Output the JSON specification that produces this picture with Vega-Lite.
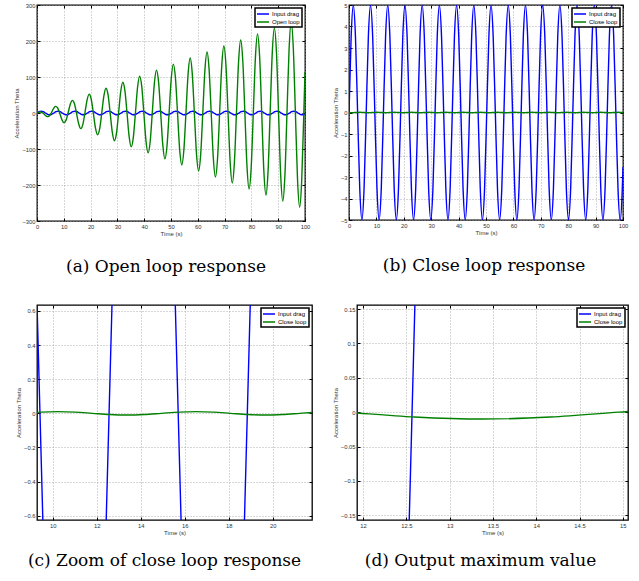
{
"$schema": "https://vega.github.io/schema/vega-lite/v6.json",
"background": "white",
"padding": {"left": 13, "top": 1, "right": 0, "bottom": 0},
"spacing": 27,
"resolve": {"scale": {"x": "independent", "y": "independent", "color": "independent"}, "axis": {"x": "independent", "y": "independent"}, "legend": {"color": "independent"}},
"config": {
  "font": "Liberation Sans",
  "view": {"stroke": "black", "strokeWidth": 1.3},
  "axis": {"domain": false, "tickColor": "black", "tickSize": -3, "tickWidth": 1, "labelFont": "Liberation Sans", "labelFontSize": 5.8, "labelColor": "#333", "titleFont": "Liberation Sans", "titleFontSize": 6, "titleFontWeight": "normal", "titleColor": "#333", "gridColor": "#999", "gridDash": [1, 2], "gridWidth": 0.8, "labelPadding": 5, "titlePadding": 2, "labelFlush": false, "labelOverlap": false},
  "legend": {"orient": "top-right", "offset": 3, "symbolType": "M-2,0H2", "symbolSize": 36, "symbolStrokeWidth": 1.5, "symbolOffset": 2, "labelOffset": 5, "labelFont": "Liberation Sans", "labelFontSize": 6, "labelColor": "black", "padding": 2, "rowPadding": 1, "strokeColor": "black", "fillColor": "white"},
  "title": {"font": "DejaVu Serif", "fontSize": 17, "fontWeight": "normal", "color": "black", "anchor": "middle", "frame": "group"}
},
"datasets": {
"blue": [{"t":0,"v":0},{"t":0.785,"v":3.536},{"t":1.571,"v":5},{"t":2.356,"v":3.536},{"t":3.142,"v":0},{"t":3.927,"v":-3.536},{"t":4.712,"v":-5},{"t":5.498,"v":-3.536},
{"t":6.283,"v":0},{"t":7.069,"v":3.536},{"t":7.854,"v":5},{"t":8.639,"v":3.536},{"t":9.425,"v":0},{"t":10.21,"v":-3.536},{"t":10.996,"v":-5},{"t":11.781,"v":-3.536},
{"t":12.566,"v":0},{"t":13.352,"v":3.536},{"t":14.137,"v":5},{"t":14.923,"v":3.536},{"t":15.708,"v":0},{"t":16.493,"v":-3.536},{"t":17.279,"v":-5},{"t":18.064,"v":-3.536},
{"t":18.85,"v":0},{"t":19.635,"v":3.536},{"t":20.42,"v":5},{"t":21.206,"v":3.536},{"t":21.991,"v":0},{"t":22.777,"v":-3.536},{"t":23.562,"v":-5},{"t":24.347,"v":-3.536},
{"t":25.133,"v":0},{"t":25.918,"v":3.536},{"t":26.704,"v":5},{"t":27.489,"v":3.536},{"t":28.274,"v":0},{"t":29.06,"v":-3.536},{"t":29.845,"v":-5},{"t":30.631,"v":-3.536},
{"t":31.416,"v":0},{"t":32.201,"v":3.536},{"t":32.987,"v":5},{"t":33.772,"v":3.536},{"t":34.558,"v":0},{"t":35.343,"v":-3.536},{"t":36.128,"v":-5},{"t":36.914,"v":-3.536},
{"t":37.699,"v":0},{"t":38.485,"v":3.536},{"t":39.27,"v":5},{"t":40.055,"v":3.536},{"t":40.841,"v":0},{"t":41.626,"v":-3.536},{"t":42.412,"v":-5},{"t":43.197,"v":-3.536},
{"t":43.982,"v":0},{"t":44.768,"v":3.536},{"t":45.553,"v":5},{"t":46.338,"v":3.536},{"t":47.124,"v":0},{"t":47.909,"v":-3.536},{"t":48.695,"v":-5},{"t":49.48,"v":-3.536},
{"t":50.265,"v":0},{"t":51.051,"v":3.536},{"t":51.836,"v":5},{"t":52.622,"v":3.536},{"t":53.407,"v":0},{"t":54.192,"v":-3.536},{"t":54.978,"v":-5},{"t":55.763,"v":-3.536},
{"t":56.549,"v":0},{"t":57.334,"v":3.536},{"t":58.119,"v":5},{"t":58.905,"v":3.536},{"t":59.69,"v":0},{"t":60.476,"v":-3.536},{"t":61.261,"v":-5},{"t":62.046,"v":-3.536},
{"t":62.832,"v":0},{"t":63.617,"v":3.536},{"t":64.403,"v":5},{"t":65.188,"v":3.536},{"t":65.973,"v":0},{"t":66.759,"v":-3.536},{"t":67.544,"v":-5},{"t":68.33,"v":-3.536},
{"t":69.115,"v":0},{"t":69.9,"v":3.536},{"t":70.686,"v":5},{"t":71.471,"v":3.536},{"t":72.257,"v":0},{"t":73.042,"v":-3.536},{"t":73.827,"v":-5},{"t":74.613,"v":-3.536},
{"t":75.398,"v":0},{"t":76.184,"v":3.536},{"t":76.969,"v":5},{"t":77.754,"v":3.536},{"t":78.54,"v":0},{"t":79.325,"v":-3.536},{"t":80.111,"v":-5},{"t":80.896,"v":-3.536},
{"t":81.681,"v":0},{"t":82.467,"v":3.536},{"t":83.252,"v":5},{"t":84.038,"v":3.536},{"t":84.823,"v":0},{"t":85.608,"v":-3.536},{"t":86.394,"v":-5},{"t":87.179,"v":-3.536},
{"t":87.965,"v":0},{"t":88.75,"v":3.536},{"t":89.535,"v":5},{"t":90.321,"v":3.536},{"t":91.106,"v":0},{"t":91.892,"v":-3.536},{"t":92.677,"v":-5},{"t":93.462,"v":-3.536},
{"t":94.248,"v":0},{"t":95.033,"v":3.536},{"t":95.819,"v":5},{"t":96.604,"v":3.536},{"t":97.389,"v":0},{"t":98.175,"v":-3.536},{"t":98.96,"v":-5},{"t":99.746,"v":-3.536},
{"t":100,"v":-2.532}],
"open": [{"t":0,"v":0},{"t":0.6,"v":1.6},{"t":1.385,"v":2.61},{"t":2.171,"v":0},{"t":2.956,"v":-5.58},{"t":3.742,"v":-9.99},{"t":4.527,"v":-8.55},{"t":5.312,"v":0},{"t":6.098,"v":11.51},
{"t":6.883,"v":18.38},{"t":7.669,"v":14.48},{"t":8.454,"v":0},{"t":9.239,"v":-17.44},{"t":10.025,"v":-26.77},{"t":10.81,"v":-20.41},{"t":11.596,"v":0},{"t":12.381,"v":23.37},
{"t":13.166,"v":35.15},{"t":13.952,"v":26.34},{"t":14.737,"v":0},{"t":15.523,"v":-29.31},{"t":16.308,"v":-43.54},{"t":17.093,"v":-32.27},{"t":17.879,"v":0},{"t":18.664,"v":35.24},
{"t":19.45,"v":51.93},{"t":20.235,"v":38.2},{"t":21.02,"v":0},{"t":21.806,"v":-41.17},{"t":22.591,"v":-60.32},{"t":23.377,"v":-44.14},{"t":24.162,"v":0},{"t":24.947,"v":47.1},
{"t":25.733,"v":68.71},{"t":26.518,"v":50.07},{"t":27.304,"v":0},{"t":28.089,"v":-53.03},{"t":28.874,"v":-77.09},{"t":29.66,"v":-56},{"t":30.445,"v":0},{"t":31.231,"v":58.96},
{"t":32.016,"v":85.48},{"t":32.801,"v":61.93},{"t":33.587,"v":0},{"t":34.372,"v":-64.89},{"t":35.158,"v":-93.87},{"t":35.943,"v":-67.86},{"t":36.728,"v":0},{"t":37.514,"v":70.82},
{"t":38.299,"v":102.26},{"t":39.085,"v":73.79},{"t":39.87,"v":0},{"t":40.655,"v":-76.76},{"t":41.441,"v":-110.65},{"t":42.226,"v":-79.72},{"t":43.012,"v":0},{"t":43.797,"v":82.69},
{"t":44.582,"v":119.03},{"t":45.368,"v":85.65},{"t":46.153,"v":0},{"t":46.938,"v":-88.62},{"t":47.724,"v":-127.42},{"t":48.509,"v":-91.58},{"t":49.295,"v":0},{"t":50.08,"v":94.55},
{"t":50.865,"v":135.81},{"t":51.651,"v":97.51},{"t":52.436,"v":0},{"t":53.222,"v":-100.48},{"t":54.007,"v":-144.2},{"t":54.792,"v":-103.45},{"t":55.578,"v":0},{"t":56.363,"v":106.41},
{"t":57.149,"v":152.59},{"t":57.934,"v":109.38},{"t":58.719,"v":0},{"t":59.505,"v":-112.34},{"t":60.29,"v":-160.97},{"t":61.076,"v":-115.31},{"t":61.861,"v":0},{"t":62.646,"v":118.27},
{"t":63.432,"v":169.36},{"t":64.217,"v":121.24},{"t":65.003,"v":0},{"t":65.788,"v":-124.21},{"t":66.573,"v":-177.75},{"t":67.359,"v":-127.17},{"t":68.144,"v":0},{"t":68.93,"v":130.14},
{"t":69.715,"v":186.14},{"t":70.5,"v":133.1},{"t":71.286,"v":0},{"t":72.071,"v":-136.07},{"t":72.857,"v":-194.53},{"t":73.642,"v":-139.03},{"t":74.427,"v":0},{"t":75.213,"v":142},
{"t":75.998,"v":202.91},{"t":76.784,"v":144.96},{"t":77.569,"v":0},{"t":78.354,"v":-147.93},{"t":79.14,"v":-211.3},{"t":79.925,"v":-150.9},{"t":80.711,"v":0},{"t":81.496,"v":153.86},
{"t":82.281,"v":219.69},{"t":83.067,"v":156.83},{"t":83.852,"v":0},{"t":84.638,"v":-159.79},{"t":85.423,"v":-228.08},{"t":86.208,"v":-162.76},{"t":86.994,"v":0},{"t":87.779,"v":165.72},
{"t":88.565,"v":236.47},{"t":89.35,"v":168.69},{"t":90.135,"v":0},{"t":90.921,"v":-171.65},{"t":91.706,"v":-244.86},{"t":92.492,"v":-174.62},{"t":93.277,"v":0},{"t":94.062,"v":177.59},
{"t":94.848,"v":253.24},{"t":95.633,"v":180.55},{"t":96.419,"v":0},{"t":97.204,"v":-183.52},{"t":97.989,"v":-261.63},{"t":98.775,"v":-186.48},{"t":99.56,"v":0},{"t":100,"v":114}],
"close": [{"t":0.028,"v":-0.00707},{"t":0.813,"v":-0.01},{"t":1.599,"v":-0.00707},{"t":2.384,"v":0},{"t":3.17,"v":0.00707},{"t":3.955,"v":0.01},{"t":4.74,"v":0.00707},{"t":5.526,"v":0},
{"t":6.311,"v":-0.00707},{"t":7.097,"v":-0.01},{"t":7.882,"v":-0.00707},{"t":8.667,"v":0},{"t":9.453,"v":0.00707},{"t":10.238,"v":0.01},{"t":11.024,"v":0.00707},{"t":11.809,"v":0},
{"t":12.594,"v":-0.00707},{"t":13.38,"v":-0.01},{"t":14.165,"v":-0.00707},{"t":14.951,"v":0},{"t":15.736,"v":0.00707},{"t":16.521,"v":0.01},{"t":17.307,"v":0.00707},{"t":18.092,"v":0},
{"t":18.878,"v":-0.00707},{"t":19.663,"v":-0.01},{"t":20.448,"v":-0.00707},{"t":21.234,"v":0},{"t":22.019,"v":0.00707},{"t":22.805,"v":0.01},{"t":23.59,"v":0.00707},{"t":24.375,"v":0},
{"t":25.161,"v":-0.00707},{"t":25.946,"v":-0.01},{"t":26.732,"v":-0.00707},{"t":27.517,"v":0},{"t":28.302,"v":0.00707},{"t":29.088,"v":0.01},{"t":29.873,"v":0.00707},{"t":30.659,"v":0},
{"t":31.444,"v":-0.00707},{"t":32.229,"v":-0.01},{"t":33.015,"v":-0.00707},{"t":33.8,"v":0},{"t":34.586,"v":0.00707},{"t":35.371,"v":0.01},{"t":36.156,"v":0.00707},{"t":36.942,"v":0},
{"t":37.727,"v":-0.00707},{"t":38.513,"v":-0.01},{"t":39.298,"v":-0.00707},{"t":40.083,"v":0},{"t":40.869,"v":0.00707},{"t":41.654,"v":0.01},{"t":42.44,"v":0.00707},{"t":43.225,"v":0},
{"t":44.01,"v":-0.00707},{"t":44.796,"v":-0.01},{"t":45.581,"v":-0.00707},{"t":46.366,"v":0},{"t":47.152,"v":0.00707},{"t":47.937,"v":0.01},{"t":48.723,"v":0.00707},{"t":49.508,"v":0},
{"t":50.293,"v":-0.00707},{"t":51.079,"v":-0.01},{"t":51.864,"v":-0.00707},{"t":52.65,"v":0},{"t":53.435,"v":0.00707},{"t":54.22,"v":0.01},{"t":55.006,"v":0.00707},{"t":55.791,"v":0},
{"t":56.577,"v":-0.00707},{"t":57.362,"v":-0.01},{"t":58.147,"v":-0.00707},{"t":58.933,"v":0},{"t":59.718,"v":0.00707},{"t":60.504,"v":0.01},{"t":61.289,"v":0.00707},{"t":62.074,"v":0},
{"t":62.86,"v":-0.00707},{"t":63.645,"v":-0.01},{"t":64.431,"v":-0.00707},{"t":65.216,"v":0},{"t":66.001,"v":0.00707},{"t":66.787,"v":0.01},{"t":67.572,"v":0.00707},{"t":68.358,"v":0},
{"t":69.143,"v":-0.00707},{"t":69.928,"v":-0.01},{"t":70.714,"v":-0.00707},{"t":71.499,"v":0},{"t":72.285,"v":0.00707},{"t":73.07,"v":0.01},{"t":73.855,"v":0.00707},{"t":74.641,"v":0},
{"t":75.426,"v":-0.00707},{"t":76.212,"v":-0.01},{"t":76.997,"v":-0.00707},{"t":77.782,"v":0},{"t":78.568,"v":0.00707},{"t":79.353,"v":0.01},{"t":80.139,"v":0.00707},{"t":80.924,"v":0},
{"t":81.709,"v":-0.00707},{"t":82.495,"v":-0.01},{"t":83.28,"v":-0.00707},{"t":84.066,"v":0},{"t":84.851,"v":0.00707},{"t":85.636,"v":0.01},{"t":86.422,"v":0.00707},{"t":87.207,"v":0},
{"t":87.993,"v":-0.00707},{"t":88.778,"v":-0.01},{"t":89.563,"v":-0.00707},{"t":90.349,"v":0},{"t":91.134,"v":0.00707},{"t":91.92,"v":0.01},{"t":92.705,"v":0.00707},{"t":93.49,"v":0},
{"t":94.276,"v":-0.00707},{"t":95.061,"v":-0.01},{"t":95.847,"v":-0.00707},{"t":96.632,"v":0},{"t":97.417,"v":0.00707},{"t":98.203,"v":0.01},{"t":98.988,"v":0.00707},{"t":99.774,"v":0},
{"t":100,"v":-0.00225}]
},
"vconcat": [
{"hconcat": [
{
 "width": 268, "height": 216,
 "title": {"text": "(a) Open loop response", "orient": "bottom", "offset": 22, "dx": -5},
 "resolve": {"axis": {"x": "independent", "y": "independent"}},
 "layer": [
  {"data": {"name": "blue"}, "mark": {"type": "line", "clip": true, "interpolate": "monotone", "strokeWidth": 1.4},
   "encoding": {
    "x": {"field": "t", "type": "quantitative", "scale": {"domain": [0, 100], "nice": false, "zero": false}, "axis": {"title": "Time (s)", "values": [0,10,20,30,40,50,60,70,80,90,100]}},
    "y": {"field": "v", "type": "quantitative", "scale": {"domain": [-300, 300], "nice": false, "zero": false}, "axis": {"title": "Acceleration Theta", "values": [-300,-200,-100,0,100,200,300]}},
    "color": {"datum": "Input drag", "type": "nominal", "scale": {"domain": ["Input drag", "Open loop"], "range": ["#0000ff", "#008000"]}, "legend": {"title": null, "encode": {"legend": {"update": {"strokeWidth": {"value": 1.5}}}}}}
   }},
  {"data": {"name": "open"}, "mark": {"type": "line", "clip": true, "interpolate": "monotone", "strokeWidth": 1.4},
   "encoding": {
    "x": {"field": "t", "type": "quantitative", "axis": {"orient": "top", "labels": false, "title": null, "grid": false, "values": [0,10,20,30,40,50,60,70,80,90,100]}},
    "y": {"field": "v", "type": "quantitative", "axis": {"orient": "right", "labels": false, "title": null, "grid": false, "values": [-300,-200,-100,0,100,200,300]}},
    "color": {"datum": "Open loop", "type": "nominal"}
   }}
 ]
},
{
 "width": 274, "height": 215,
 "title": {"text": "(b) Close loop response", "orient": "bottom", "offset": 22, "dx": -2},
 "resolve": {"axis": {"x": "independent", "y": "independent"}},
 "layer": [
  {"data": {"name": "blue"}, "mark": {"type": "line", "clip": true, "interpolate": "monotone", "strokeWidth": 1.4},
   "encoding": {
    "x": {"field": "t", "type": "quantitative", "scale": {"domain": [0, 100], "nice": false, "zero": false}, "axis": {"title": "Time (s)", "values": [0,10,20,30,40,50,60,70,80,90,100]}},
    "y": {"field": "v", "type": "quantitative", "scale": {"domain": [-5, 5], "nice": false, "zero": false}, "axis": {"title": "Acceleration Theta", "values": [-5,-4,-3,-2,-1,0,1,2,3,4,5]}},
    "color": {"datum": "Input drag", "type": "nominal", "scale": {"domain": ["Input drag", "Close loop"], "range": ["#0000ff", "#008000"]}, "legend": {"title": null, "encode": {"legend": {"update": {"strokeWidth": {"value": 1.5}}}}}}
   }},
  {"data": {"name": "close"}, "mark": {"type": "line", "clip": true, "interpolate": "monotone", "strokeWidth": 1.4},
   "encoding": {
    "x": {"field": "t", "type": "quantitative", "axis": {"orient": "top", "labels": false, "title": null, "grid": false, "values": [0,10,20,30,40,50,60,70,80,90,100]}},
    "y": {"field": "v", "type": "quantitative", "axis": {"orient": "right", "labels": false, "title": null, "grid": false, "values": [-5,-4,-3,-2,-1,0,1,2,3,4,5]}},
    "color": {"datum": "Close loop", "type": "nominal"}
   }}
 ]
}
], "bounds": "flush", "spacing": 44, "resolve": {"scale": {"x": "independent", "y": "independent", "color": "independent"}, "axis": {"x": "independent", "y": "independent"}, "legend": {"color": "independent"}}},
{"hconcat": [
{
 "width": 275, "height": 215,
 "title": {"text": "(c) Zoom of close loop response", "orient": "bottom", "offset": 17, "dx": -10},
 "resolve": {"axis": {"x": "independent", "y": "independent"}},
 "layer": [
  {"data": {"name": "blue"}, "mark": {"type": "line", "clip": true, "interpolate": "monotone", "strokeWidth": 1.4},
   "encoding": {
    "x": {"field": "t", "type": "quantitative", "scale": {"domain": [9.29, 21.79], "nice": false, "zero": false}, "axis": {"title": "Time (s)", "format": "~g", "values": [10,12,14,16,18,20]}},
    "y": {"field": "v", "type": "quantitative", "scale": {"domain": [-0.625, 0.635], "nice": false, "zero": false}, "axis": {"title": "Acceleration Theta", "format": "~g", "values": [-0.6,-0.4,-0.2,0,0.2,0.4,0.6]}},
    "color": {"datum": "Input drag", "type": "nominal", "scale": {"domain": ["Input drag", "Close loop"], "range": ["#0000ff", "#008000"]}, "legend": {"title": null, "encode": {"legend": {"update": {"strokeWidth": {"value": 1.5}}}}}}
   }},
  {"data": {"name": "close"}, "mark": {"type": "line", "clip": true, "interpolate": "monotone", "strokeWidth": 1.4},
   "encoding": {
    "x": {"field": "t", "type": "quantitative", "axis": {"orient": "top", "labels": false, "title": null, "grid": false, "values": [10,12,14,16,18,20]}},
    "y": {"field": "v", "type": "quantitative", "axis": {"orient": "right", "labels": false, "title": null, "grid": false, "values": [-0.6,-0.4,-0.2,0,0.2,0.4,0.6]}},
    "color": {"datum": "Close loop", "type": "nominal"}
   }}
 ]
},
{
 "width": 271, "height": 215,
 "title": {"text": "(d) Output maximum value", "orient": "bottom", "offset": 17, "dx": -12},
 "resolve": {"axis": {"x": "independent", "y": "independent"}},
 "layer": [
  {"data": {"name": "blue"}, "mark": {"type": "line", "clip": true, "interpolate": "monotone", "strokeWidth": 1.4},
   "encoding": {
    "x": {"field": "t", "type": "quantitative", "scale": {"domain": [11.93, 15.06], "nice": false, "zero": false}, "axis": {"title": "Time (s)", "format": "~g", "values": [12,12.5,13,13.5,14,14.5,15]}},
    "y": {"field": "v", "type": "quantitative", "scale": {"domain": [-0.157, 0.156], "nice": false, "zero": false}, "axis": {"title": "Acceleration Theta", "format": "~g", "values": [-0.15,-0.1,-0.05,0,0.05,0.1,0.15]}},
    "color": {"datum": "Input drag", "type": "nominal", "scale": {"domain": ["Input drag", "Close loop"], "range": ["#0000ff", "#008000"]}, "legend": {"title": null, "encode": {"legend": {"update": {"strokeWidth": {"value": 1.5}}}}}}
   }},
  {"data": {"name": "close"}, "mark": {"type": "line", "clip": true, "interpolate": "monotone", "strokeWidth": 1.4},
   "encoding": {
    "x": {"field": "t", "type": "quantitative", "axis": {"orient": "top", "labels": false, "title": null, "grid": false, "values": [12,12.5,13,13.5,14,14.5,15]}},
    "y": {"field": "v", "type": "quantitative", "axis": {"orient": "right", "labels": false, "title": null, "grid": false, "values": [-0.15,-0.1,-0.05,0,0.05,0.1,0.15]}},
    "color": {"datum": "Close loop", "type": "nominal"}
   }}
 ]
}
], "bounds": "flush", "spacing": 45, "resolve": {"scale": {"x": "independent", "y": "independent", "color": "independent"}, "axis": {"x": "independent", "y": "independent"}, "legend": {"color": "independent"}}}
]
}
